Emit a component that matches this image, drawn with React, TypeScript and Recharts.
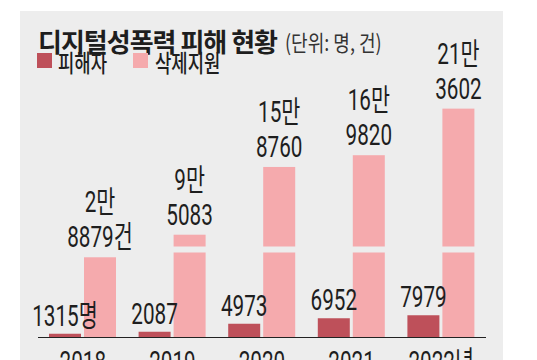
import { Bar, BarChart, XAxis, YAxis, LabelList } from "recharts"

const years = ["2018", "2019", "2020", "2021", "2022년"]
const victims = [1315, 2087, 4973, 6952, 7979]
const removals = [28879, 95083, 158760, 169820, 213602]
const seriesNames = ["피해자", "삭제지원"]
const unitSuffix = ["명", "건"]

// broken y axis: low part is linear, then a gap, then a compressed upper part
const LOW_PER_UNIT = 360
const LOW_UNITS = 85
const GAP_UNITS = 6
const HIGH_START = 84000
const HIGH_PER_UNIT = 940

const toAxis = (v: number) => {
    if (v <= LOW_UNITS * LOW_PER_UNIT) return v / LOW_PER_UNIT
    return LOW_UNITS + GAP_UNITS + Math.max(0, v - HIGH_START) / HIGH_PER_UNIT
}

const data = years.map((year, i) => ({
    year,
    victims: victims[i],
    removals: removals[i],
    victimsAxis: toAxis(victims[i]),
    removalsAxis: toAxis(removals[i]),
}))

const DARK = "#be505a"
const PINK = "#f5aaad"
const BG = "#ededed"
const INK = "#1e1e1e"
const KR_FONT = "'Noto Sans CJK KR', sans-serif"
const NUM_FONT = "Roboto, 'Noto Sans CJK KR', sans-serif"
const SQUEEZE = 0.69

const BrokenBar = (props: any) => {
    const { x, y, width, height, payload } = props
    const units = payload.removalsAxis
    if (units <= LOW_UNITS + GAP_UNITS) {
        return <rect x={x} y={y} width={width} height={height} fill={PINK} />
    }
    const perUnit = height / units
    const bottom = y + height
    const gapTop = bottom - (LOW_UNITS + GAP_UNITS) * perUnit
    const gapBottom = bottom - LOW_UNITS * perUnit
    return (
        <g>
            <rect x={x} y={y} width={width} height={gapTop - y} fill={PINK} />
            <rect x={x} y={gapBottom} width={width} height={bottom - gapBottom} fill={PINK} />
        </g>
    )
}

const NumText = ({ x, y, children }: any) => (
    <text
        transform={`translate(${x},${y}) scale(${SQUEEZE},1)`}
        textAnchor="middle"
        fontFamily={NUM_FONT}
        fontSize={30}
        fill={INK}
    >
        {children}
    </text>
)

const VictimLabel = (props: any) => {
    const { x, y, width, value, index } = props
    return (
        <NumText x={x + width / 2} y={y - 8}>
            {`${value}${index === 0 ? unitSuffix[0] : ""}`}
        </NumText>
    )
}

const RemovalLabel = (props: any) => {
    const { x, y, width, value, index } = props
    const man = Math.floor(value / 10000)
    const rest = value % 10000
    const cx = x + width / 2
    return (
        <g>
            <NumText x={cx} y={y - 45}>{`${man}만`}</NumText>
            <NumText x={cx} y={y - 10}>{`${rest}${index === 0 ? unitSuffix[1] : ""}`}</NumText>
        </g>
    )
}

const YearTick = (props: any) => {
    const { x, y, payload } = props
    return <NumText x={x} y={y + 34}>{payload.value}</NumText>
}

const legendText = {
    position: "absolute" as const,
    top: 0,
    fontFamily: KR_FONT,
    fontSize: 24,
    fontWeight: 500,
    lineHeight: "24px",
    color: INK,
    whiteSpace: "nowrap" as const,
    transform: "scaleX(0.74)",
    transformOrigin: "left center",
}

export default function App() {
    return (
        <div style={{ position: "fixed", left: 0, top: 0, width: 537, height: 360, background: "#fff", overflow: "hidden" }}>
            <div style={{ position: "absolute", left: 20, top: 11, width: 483, height: 349, background: BG }} />
            <div
                style={{
                    position: "absolute",
                    left: 38,
                    top: 28,
                    fontFamily: KR_FONT,
                    fontWeight: 700,
                    fontSize: 26,
                    lineHeight: "26px",
                    letterSpacing: -1,
                    color: INK,
                    whiteSpace: "nowrap",
                }}
            >
                디지털성폭력 피해 현황
            </div>
            <div
                style={{
                    position: "absolute",
                    left: 285,
                    top: 30,
                    fontFamily: KR_FONT,
                    fontSize: 22,
                    lineHeight: "22px",
                    color: "#333",
                    whiteSpace: "nowrap",
                    transform: "scaleX(0.82)",
                    transformOrigin: "left center",
                }}
            >
                (단위: 명, 건)
            </div>
            <div style={{ position: "absolute", left: 37, top: 50, width: 220, height: 24 }}>
                <div style={{ position: "absolute", left: 0, top: 3, width: 15, height: 15, background: DARK }} />
                <div style={{ ...legendText, left: 21 }}>{seriesNames[0]}</div>
                <div style={{ position: "absolute", left: 96, top: 3, width: 15, height: 15, background: PINK }} />
                <div style={{ ...legendText, left: 118 }}>{seriesNames[1]}</div>
            </div>
            <div style={{ position: "absolute", left: 0, top: 0 }}>
                <BarChart
                    width={537}
                    height={360}
                    data={data}
                    margin={{ top: 97.5, right: 51, bottom: 2.5, left: 38 }}
                    barSize={32}
                    barGap={3}
                >
                    <XAxis
                        dataKey="year"
                        height={20}
                        tickLine={false}
                        tickSize={0}
                        tickMargin={0}
                        axisLine={{ stroke: "#222", strokeWidth: 1 }}
                        tick={<YearTick />}
                        interval={0}
                    />
                    <YAxis hide domain={[0, 240]} allowDataOverflow />
                    <Bar dataKey="victimsAxis" name={seriesNames[0]} fill={DARK} isAnimationActive={false}>
                        <LabelList dataKey="victims" content={<VictimLabel />} />
                    </Bar>
                    <Bar dataKey="removalsAxis" name={seriesNames[1]} fill={PINK} shape={<BrokenBar />} isAnimationActive={false}>
                        <LabelList dataKey="removals" content={<RemovalLabel />} />
                    </Bar>
                </BarChart>
            </div>
        </div>
    )
}
